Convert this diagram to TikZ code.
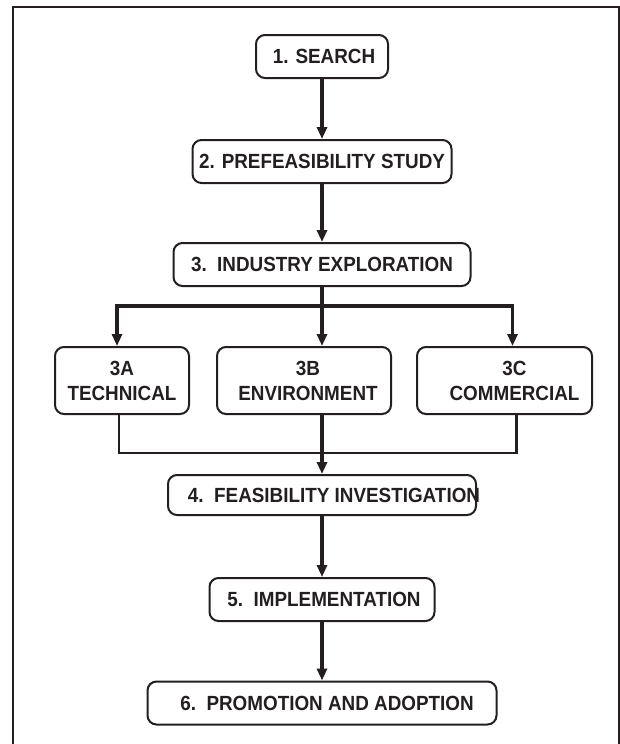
\documentclass[tikz,border=0pt]{standalone}
\usepackage{fontspec}
\setmainfont{Liberation Sans}[FakeStretch=0.92]
\usetikzlibrary{arrows.meta}
\definecolor{ink}{RGB}{35,31,32}
% move a line of text to the right without widening its box
\newcommand{\shiftr}[2]{\hspace*{#1}#2\hspace*{-#1}}

\begin{document}
\begin{tikzpicture}[x=1pt, y=-1pt, >={Triangle[width=10pt,length=12pt]}, ink,
  stage/.style={draw=ink, line width=2pt, rounded corners=9pt, inner sep=0pt,
    minimum height=43pt, align=center, text=ink,
    font=\fontsize{20.5}{25}\selectfont\bfseries},
  flow/.style={->, line width=3.2pt},
  merge/.style={line width=2.2pt}]
  \useasboundingbox (0,0) rectangle (620,744);
  % frame, open at the bottom
  \draw[line width=2.5pt] (13,760) -- (13,7) -- (619,7) -- (619,760);
  % main stages
  \node[stage, minimum width=132pt] (search) at (322,56.5) {\shiftr{2pt}{1. SEARCH}};
  \node[stage, minimum width=259pt] (prefeas) at (322,161.5) {2. PREFEASIBILITY STUDY};
  \node[stage, minimum width=297pt] (explore) at (322,264.5) {3.\ \ INDUSTRY EXPLORATION};
  % studies
  \node[stage, minimum width=134pt, minimum height=67pt] (tech) at (122,380.5) {3A\\TECHNICAL};
  \node[stage, minimum width=174pt, minimum height=67pt] (env) at (304,380.5) {\shiftr{4pt}{3B}\\\shiftr{4pt}{ENVIRONMENT}};
  \node[stage, minimum width=175pt, minimum height=67pt] (comm) at (504.5,380.5) {\shiftr{10pt}{3C}\\\shiftr{10pt}{COMMERCIAL}};
  % later stages
  \node[stage, minimum width=308pt, minimum height=40pt] (feas) at (322,495) {\shiftr{12pt}{4.\ \ FEASIBILITY INVESTIGATION}};
  \node[stage, minimum width=225pt] (impl) at (322,599.5) {\shiftr{2pt}{5.\ \ IMPLEMENTATION}};
  \node[stage, minimum width=349pt] (promo) at (322,703) {\shiftr{5pt}{6.\ \ PROMOTION AND ADOPTION}};
  % arrows
  \draw[flow] (search) -- (prefeas);
  \draw[flow] (prefeas) -- (explore);
  \coordinate (split) at (322,306);
  \coordinate (join) at (322,453);
  \draw[line width=3.2pt] (explore) -- (split);
  \draw[flow] (split) -| ([xshift=-5pt]tech.north);
  \draw[flow] (split) -- (split |- env.north);
  \draw[flow] (split) -| ([xshift=8pt]comm.north);
  \draw[merge] ([xshift=-3pt]tech.south) |- (join) -| ([xshift=12pt]comm.south);
  \draw[flow] (feas.north |- env.south) -- (feas.north);
  \draw[flow] (feas) -- (impl);
  \draw[flow] (impl) -- (promo);
\end{tikzpicture}
\end{document}
